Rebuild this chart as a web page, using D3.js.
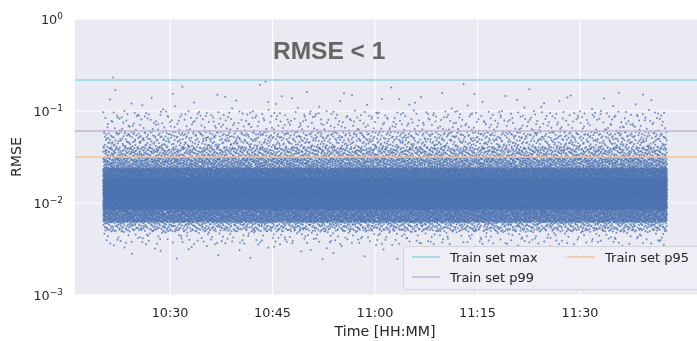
<!DOCTYPE html>
<html>
<head>
<meta charset="utf-8">
<script src="https://cdn.jsdelivr.net/npm/d3@7"></script>
<style>
  html, body { margin: 0; padding: 0; background: #ffffff; }
  #wrap { position: relative; width: 697px; height: 341px; overflow: hidden; }
  #wrap svg, #wrap canvas { position: absolute; left: 0; top: 0; }
</style>
</head>
<body>
<div id="wrap"></div>
<script>
// ---------------- data ----------------
const xTickLabels = ["10:30", "10:45", "11:00", "11:15", "11:30"];
const xDomainLabels = ["10:16:05", "11:46:50"];
const yTickExponents = [0, -1, -2, -3];
const thresholdNames = ["Train set max", "Train set p99", "Train set p95"];
const thresholdValues = [0.217, 0.0607, 0.0316];
const dataTimeRange = ["10:20:12", "11:42:45"];
// estimated distribution of RMSE (log10) over the whole time span, read off the point cloud
const quantileLevels = [0.0, 0.0004, 0.0012, 0.007, 0.03, 0.15, 0.35, 0.55, 0.75, 0.88, 0.935, 0.965, 0.988, 0.9985, 0.9998, 1.0];
const quantileLog10  = [-2.62, -2.52, -2.45, -2.31, -2.21, -2.07, -1.94, -1.84, -1.73, -1.62, -1.50, -1.39, -1.22, -1.00, -0.80, -0.69];
const pointCount = 40000;
// isolated outliers read individually
const outlierTimes = ["10:21:40", "10:43:58"];
const outlierValues = [0.231, 0.209];

// ---------------- helpers ----------------
const W = 697, H = 341;
const M = { left: 75, right: 695, top: 19, bottom: 295 };
const parseT = s => { const p = s.split(":").map(Number); return new Date(2000, 0, 1, p[0], p[1], p[2] || 0); };

const x = d3.scaleTime().domain(xDomainLabels.map(parseT)).range([M.left, M.right]);
const y = d3.scaleLog().domain([1e-3, 1]).range([M.bottom, M.top]);
const qInterp = d3.scaleLinear().domain(quantileLevels).range(quantileLog10).clamp(true);

// deterministic low-discrepancy (Halton) placement of the cloud
function radicalInverse(n, b) {
  let f = 1, r = 0;
  while (n > 0) { f /= b; r += f * (n % b); n = Math.floor(n / b); }
  return r;
}

const wrap = d3.select("#wrap");
const FONT = "'DejaVu Sans', sans-serif";

// bottom layer: background + grid
const svgB = wrap.append("svg").attr("width", W).attr("height", H);
svgB.append("rect").attr("x", 0).attr("y", 0).attr("width", W).attr("height", H).attr("fill", "#ffffff");
svgB.append("rect").attr("x", M.left).attr("y", M.top).attr("width", W - M.left + 2).attr("height", M.bottom - M.top).attr("fill", "#eaeaf2");

const xTicks = xTickLabels.map(parseT);
svgB.append("g").selectAll("line").data(xTicks).join("line")
  .attr("x1", d => x(d)).attr("x2", d => x(d))
  .attr("y1", M.top).attr("y2", M.bottom)
  .attr("stroke", "#ffffff").attr("stroke-width", 1.1);
svgB.append("g").selectAll("line").data(yTickExponents).join("line")
  .attr("x1", M.left).attr("x2", W)
  .attr("y1", d => y(Math.pow(10, d))).attr("y2", d => y(Math.pow(10, d)))
  .attr("stroke", "#ffffff").attr("stroke-width", 1.1);

// middle layer: points on canvas
const canvas = wrap.append("canvas").attr("width", W).attr("height", H).node();
const ctx = canvas.getContext("2d");
ctx.save();
ctx.beginPath();
ctx.rect(M.left, M.top, W - M.left, M.bottom - M.top);
ctx.clip();
const t0 = parseT(dataTimeRange[0]).getTime(), t1 = parseT(dataTimeRange[1]).getTime();
ctx.fillStyle = "rgba(76,114,176,0.78)";
for (let n = 1; n <= pointCount; n++) {
  const fa = radicalInverse(n, 2), fb = radicalInverse(n, 3);
  const t = new Date(t0 + fa * (t1 - t0));
  const v = Math.pow(10, qInterp(fb));
  ctx.beginPath();
  ctx.arc(x(t), y(v), 1.0, 0, 2 * Math.PI);
  ctx.fill();
}
outlierTimes.forEach((s, i) => {
  ctx.beginPath();
  ctx.arc(x(parseT(s)), y(outlierValues[i]), 1.0, 0, 2 * Math.PI);
  ctx.fill();
});
ctx.restore();

// top layer: thresholds, legend, axes text, title
const svg = wrap.append("svg").attr("width", W).attr("height", H);
const lineColors = ["#93d3df", "#c2b3d8", "#f3c39c"];

svg.append("g").selectAll("line").data(thresholdValues).join("line")
  .attr("x1", M.left).attr("x2", W)
  .attr("y1", d => y(d)).attr("y2", d => y(d))
  .attr("stroke", (d, i) => lineColors[i]).attr("stroke-width", 1.5);

// title
svg.append("text").attr("x", 273).attr("y", 59)
  .attr("font-family", "'Liberation Sans', Arial, sans-serif")
  .attr("font-weight", "bold").attr("font-size", 24.5).attr("fill", "#666666")
  .text("RMSE < 1");

// x tick labels
svg.append("g").selectAll("text").data(xTicks).join("text")
  .attr("x", d => x(d)).attr("y", 317)
  .attr("text-anchor", "middle").attr("font-family", FONT).attr("font-size", 12.8).attr("fill", "#262626")
  .text((d, i) => xTickLabels[i]);
svg.append("text").attr("x", (M.left + M.right) / 2).attr("y", 336)
  .attr("text-anchor", "middle").attr("font-family", FONT).attr("font-size", 14.2).attr("fill", "#262626")
  .text("Time [HH:MM]");

// y tick labels with superscripts
const yt = svg.append("g").selectAll("text").data(yTickExponents).join("text")
  .attr("x", 63).attr("y", d => y(Math.pow(10, d)) + 5)
  .attr("text-anchor", "end").attr("font-family", FONT).attr("font-size", 12.8).attr("fill", "#262626");
yt.append("tspan").text("10");
yt.append("tspan").attr("dy", -5.5).attr("font-size", 9)
  .text(d => (d < 0 ? "\u2212" + Math.abs(d) : String(d)));

svg.append("text").attr("transform", `translate(21,${(M.top + M.bottom) / 2}) rotate(-90)`)
  .attr("text-anchor", "middle").attr("font-family", FONT).attr("font-size", 14.2).attr("fill", "#262626")
  .text("RMSE");

// legend
const lg = svg.append("g");
lg.append("rect").attr("x", 403.5).attr("y", 246.5).attr("width", 310).attr("height", 43).attr("rx", 3)
  .attr("fill", "#eeeef4").attr("fill-opacity", 0.85).attr("stroke", "#d2d2da").attr("stroke-width", 1);
const legendPos = [[412, 257], [412, 277], [567, 257]];
thresholdNames.forEach((name, i) => {
  const [lx, ly] = legendPos[i];
  lg.append("line").attr("x1", lx).attr("x2", lx + 28).attr("y1", ly).attr("y2", ly)
    .attr("stroke", lineColors[i]).attr("stroke-width", 1.5);
  lg.append("text").attr("x", lx + 38).attr("y", ly + 5)
    .attr("font-family", FONT).attr("font-size", 13).attr("fill", "#262626").text(name);
});
</script>
</body>
</html>
